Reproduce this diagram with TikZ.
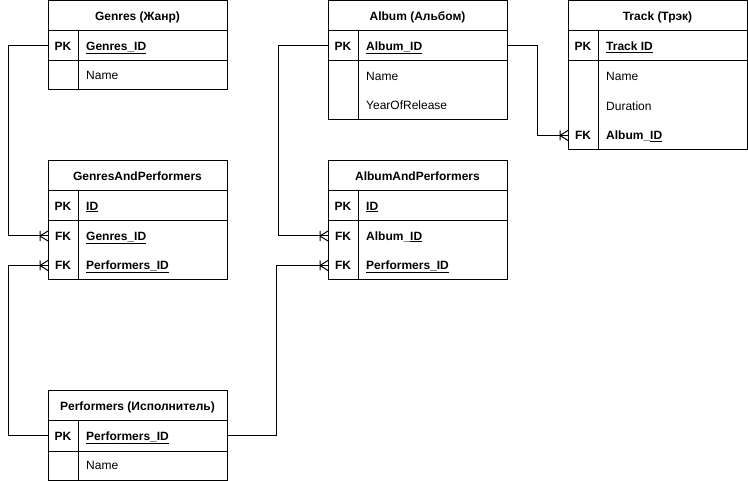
\documentclass[tikz,border=0pt]{standalone}
\usepackage{fontspec}
\setmainfont{Liberation Sans}
\newcommand\crowfoot[1]{\draw[conn] ([xshift=-8pt]#1.west) -- ([yshift=5pt]#1.west) ([xshift=-8pt]#1.west) -- ([yshift=-5pt]#1.west) ([xshift=-8pt,yshift=5pt]#1.west) -- ([xshift=-8pt,yshift=-5pt]#1.west);}
\begin{document}
\begin{tikzpicture}[x=1pt,y=-1pt,
 every node/.style={font=\fontsize{12}{14}\selectfont},
 sect/.style={draw, line width=1pt, anchor=north west, minimum width=179pt, inner sep=0pt, outer sep=0pt},
 hdr/.style={sect, minimum height=30pt, text height=8.6pt, text depth=0pt, font=\fontsize{12}{14}\selectfont\bfseries},
 row/.style={anchor=north west, minimum width=179pt, minimum height=30pt, inner sep=0pt, outer sep=0pt},
 txt/.style={anchor=west, inner sep=0pt, text height=8.6pt, text depth=0pt},
 key/.style={anchor=center, inner sep=0pt, text height=8.6pt, text depth=0pt, font=\fontsize{12}{14}\selectfont\bfseries},
 conn/.style={line width=1pt},
 div/.style={line width=1pt}]
\useasboundingbox (0,0) rectangle (748,481);

% Genres
\node[hdr] (gh) at (48,1) {Genres (Жанр)};
\node[sect, minimum height=30pt] (gpk) at (48,31) {};
\node[sect, minimum height=29pt] (gb) at (48,61) {};
\draw[div] (78,31) -- (78,90);
\node[key] (gk1) at (63,46) {PK};
\node[txt] (gt1) at (86,46) {\textbf{\underline{Genres\_ID}}};
\node[txt] (gt2) at (86,75.5) {Name};

% GenresAndPerformers
\node[hdr] (gaph) at (48,161) {GenresAndPerformers};
\node[sect, minimum height=30pt] (gappk) at (48,191) {};
\node[sect, minimum height=59pt] (gapb) at (48,221) {};
\node[row] (gapg) at (48,221) {};
\node[row, minimum height=29pt] (gapp) at (48,251) {};
\draw[div] (78,191) -- (78,280);
\node[key] (gapk1) at (63,206) {PK};
\node[txt] (gapt1) at (86,206) {\textbf{\underline{ID}}};
\node[key] (gapk2) at (63,236) {FK};
\node[txt] (gapt2) at (86,236) {\textbf{\underline{Genres\_ID}}};
\node[key] (gapk3) at (63,265.5) {FK};
\node[txt] (gapt3) at (86,265.5) {\textbf{\underline{Performers\_ID}}};

% Album
\node[hdr] (ah) at (328,1) {Album (Альбом)};
\node[sect, minimum height=30pt] (apk) at (328,31) {};
\node[sect, minimum height=59pt] (ab) at (328,61) {};
\draw[div] (358,31) -- (358,120);
\node[key] (ak1) at (343,46) {PK};
\node[txt] (at1) at (366,46) {\textbf{\underline{Album\_ID}}};
\node[txt] (at2) at (366,76) {Name};
\node[txt] (at3) at (366,105.5) {YearOfRelease};

% Track
\node[hdr] (th) at (568,1) {Track (Трэк)};
\node[sect, minimum height=30pt] (tpk) at (568,31) {};
\node[sect, minimum height=89pt] (tb) at (568,61) {};
\node[row, minimum height=29pt] (tfk) at (568,121) {};
\draw[div] (598,31) -- (598,150);
\node[key] (tk1) at (583,46) {PK};
\node[txt] (tt1) at (606,46) {\textbf{\underline{Track ID}}};
\node[txt] (tt2) at (606,76) {Name};
\node[txt] (tt3) at (606,106) {Duration};
\node[key] (tk2) at (583,135.5) {FK};
\node[txt] (tt4) at (606,135.5) {\textbf{Album\_\underline{ID}}};

% AlbumAndPerformers
\node[hdr] (aaph) at (328,161) {AlbumAndPerformers};
\node[sect, minimum height=30pt] (aappk) at (328,191) {};
\node[sect, minimum height=59pt] (aapb) at (328,221) {};
\node[row] (aapa) at (328,221) {};
\node[row, minimum height=29pt] (aapp) at (328,251) {};
\draw[div] (358,191) -- (358,280);
\node[key] (aapk1) at (343,206) {PK};
\node[txt] (aapt1) at (366,206) {\textbf{\underline{ID}}};
\node[key] (aapk2) at (343,236) {FK};
\node[txt] (aapt2) at (366,236) {\textbf{Album\_\underline{ID}}};
\node[key] (aapk3) at (343,265.5) {FK};
\node[txt] (aapt3) at (366,265.5) {\textbf{\underline{Performers\_ID}}};

% Performers
\node[hdr] (ph) at (48,391) {Performers (Исполнитель)};
\node[sect, minimum height=30pt] (ppk) at (48,421) {};
\node[sect, minimum height=29pt] (pb) at (48,451) {};
\draw[div] (78,421) -- (78,480);
\node[key] (pk1) at (63,436) {PK};
\node[txt] (pt1) at (86,436) {\textbf{\underline{Performers\_ID}}};
\node[txt] (pt2) at (86,465.5) {Name};

% connectors
\draw[conn] (gpk.west) -- ++(-40,0) |- (gapg.west);
\crowfoot{gapg}
\draw[conn] (ppk.west) -- ++(-40,0) |- (gapp.west);
\crowfoot{gapp}
\draw[conn] (ppk.east) -- ++(49,0) |- (aapp.west);
\crowfoot{aapp}
\draw[conn] (apk.west) -- ++(-50,0) |- (aapa.west);
\crowfoot{aapa}
\draw[conn] (apk.east) -- ++(30,0) |- (tfk.west);
\crowfoot{tfk}
\end{tikzpicture}
\end{document}
